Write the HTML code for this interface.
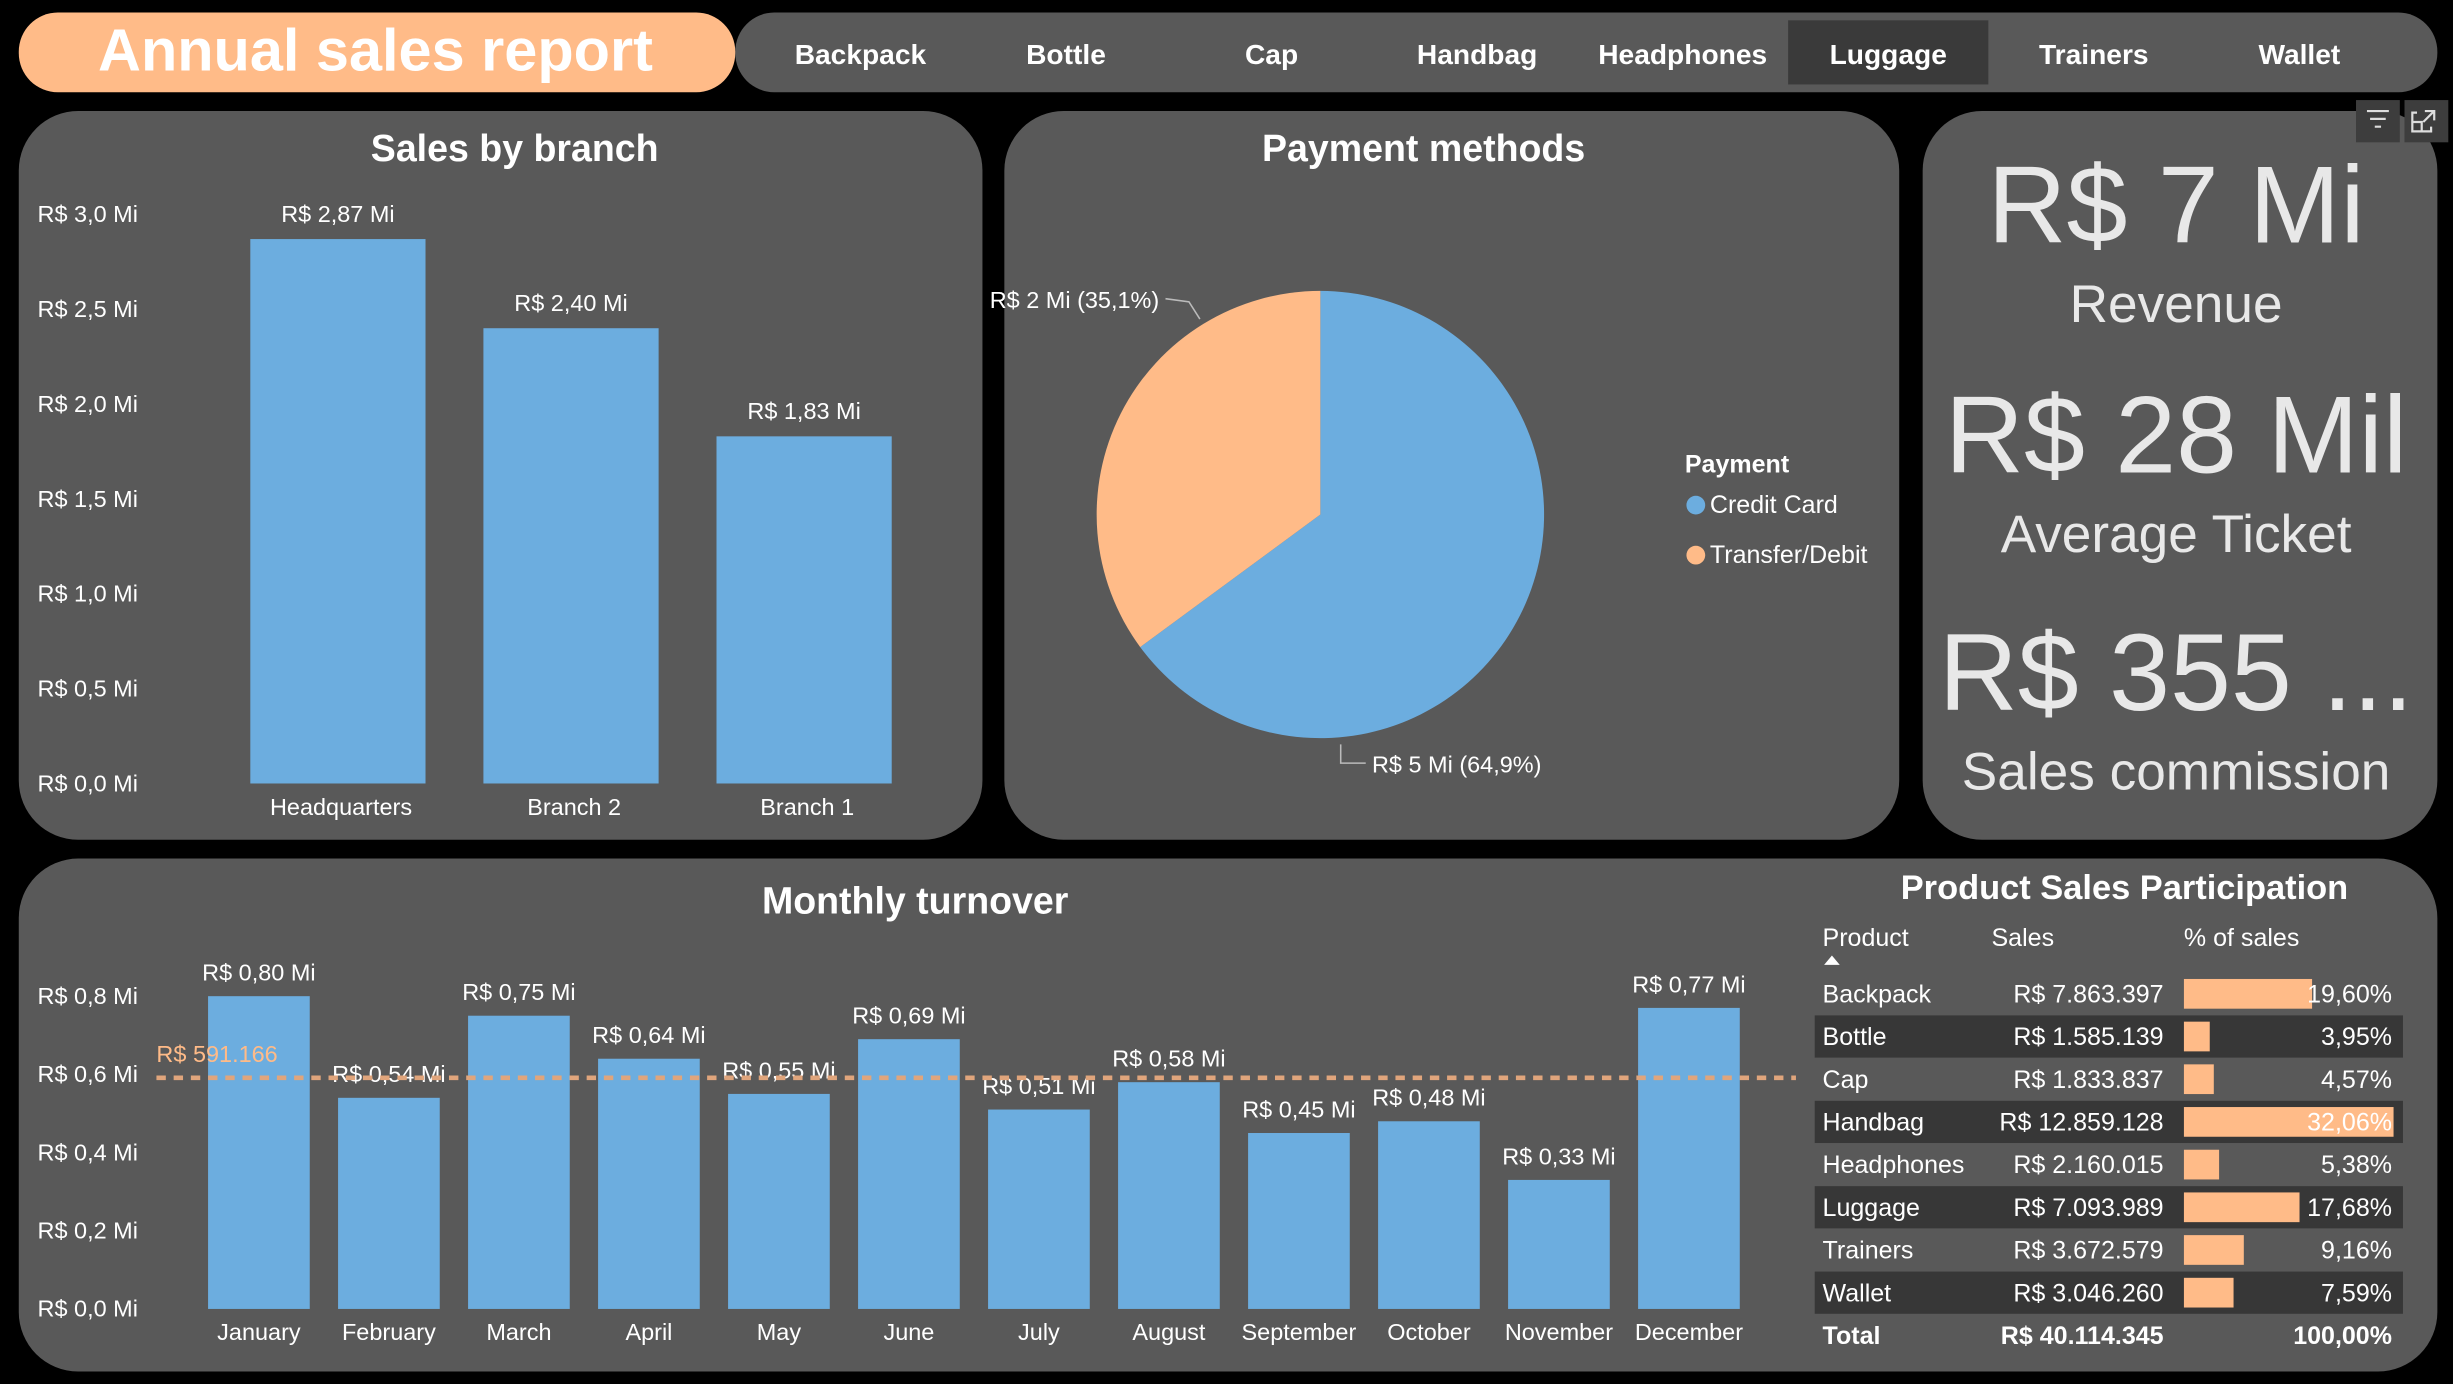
<!DOCTYPE html>
<html><head><meta charset="utf-8">
<style>
html,body{margin:0;padding:0;background:#000;overflow:hidden}
svg{display:block}
text{font-family:"Liberation Sans",sans-serif}
</style></head>
<body>
<svg id="s" width="2453" height="1384" viewBox="0 0 1568 885" preserveAspectRatio="none" xmlns="http://www.w3.org/2000/svg">
<rect x="0" y="0" width="1568" height="885" fill="#000"/>
<rect x="470" y="8" width="1088" height="51" rx="25" fill="#595959"/>
<rect x="12" y="8" width="458" height="51" rx="25" fill="#ffbb88"/>
<text x="240" y="45" text-anchor="middle" font-size="38" font-weight="bold" fill="#fff">Annual sales report</text>
<rect x="1143" y="13" width="128" height="41" fill="#3a3a3a"/>
<g id="nav"></g>
<rect x="12" y="71" width="616" height="466" rx="38" fill="#595959"/>
<rect x="642" y="71" width="572" height="466" rx="38" fill="#595959"/>
<rect x="1229" y="71" width="329" height="466" rx="38" fill="#595959"/>
<rect x="12" y="549" width="1546" height="328" rx="38" fill="#595959"/>
<rect x="1506" y="64" width="28" height="27" fill="#3d3d3d"/>
<path d="M1513 71h14M1515 76h10M1518 81h4" stroke="#ddd" stroke-width="1.4" fill="none"/>
<rect x="1537" y="64" width="28" height="27" fill="#3d3d3d"/>
<path d="M1545 72h-3v12h12v-3M1542 78h6v6M1550 71h6v6M1556 71l-7 7" stroke="#ddd" stroke-width="1.4" fill="none"/>
<text x="329" y="103" text-anchor="middle" font-size="24" font-weight="bold" fill="#fff">Sales by branch</text>
<text x="910" y="103" text-anchor="middle" font-size="24" font-weight="bold" fill="#fff">Payment methods</text>
<text x="585" y="584" text-anchor="middle" font-size="24" font-weight="bold" fill="#fff">Monthly turnover</text>
<text x="1358" y="575" text-anchor="middle" font-size="22" font-weight="bold" fill="#fff">Product Sales Participation</text>
<g fill="#e8e8e8" text-anchor="middle">
<text x="1391" y="155" font-size="70">R$ 7 Mi</text>
<text x="1391" y="206" font-size="34">Revenue</text>
<text x="1391" y="302" font-size="70">R$ 28 Mil</text>
<text x="1391" y="353" font-size="34">Average Ticket</text>
<text x="1391" y="454" font-size="70">R$ 355 ...</text>
<text x="1391" y="505" font-size="34">Sales commission</text>
</g>
<g id="branch"></g>
<g id="pie"></g>
<g id="monthly"></g>
<g id="table"></g>
</svg>
<script>
const navItems=["Backpack","Bottle","Cap","Handbag","Headphones","Luggage","Trainers","Wallet"];
const branchCats=["Headquarters","Branch 2","Branch 1"];
const branchVals=[2.87,2.40,1.83];
const branchLabels=["R$ 2,87 Mi","R$ 2,40 Mi","R$ 1,83 Mi"];
const branchTicks=[0,0.5,1,1.5,2,2.5,3];
const branchTickLabels=["R$ 0,0 Mi","R$ 0,5 Mi","R$ 1,0 Mi","R$ 1,5 Mi","R$ 2,0 Mi","R$ 2,5 Mi","R$ 3,0 Mi"];
const payCats=["Credit Card","Transfer/Debit"];
const payVals=[64.9,35.1];
const payLabels=["R$ 5 Mi (64,9%)","R$ 2 Mi (35,1%)"];
const months=["January","February","March","April","May","June","July","August","September","October","November","December"];
const monthVals=[0.80,0.54,0.75,0.64,0.55,0.69,0.51,0.58,0.45,0.48,0.33,0.77];
const monthLabels=["R$ 0,80 Mi","R$ 0,54 Mi","R$ 0,75 Mi","R$ 0,64 Mi","R$ 0,55 Mi","R$ 0,69 Mi","R$ 0,51 Mi","R$ 0,58 Mi","R$ 0,45 Mi","R$ 0,48 Mi","R$ 0,33 Mi","R$ 0,77 Mi"];
const monthTicks=[0,0.2,0.4,0.6,0.8];
const monthTickLabels=["R$ 0,0 Mi","R$ 0,2 Mi","R$ 0,4 Mi","R$ 0,6 Mi","R$ 0,8 Mi"];
const avgVal=0.591166;
const avgLabel="R$ 591.166";
const products=["Backpack","Bottle","Cap","Handbag","Headphones","Luggage","Trainers","Wallet"];
const productSales=["R$ 7.863.397","R$ 1.585.139","R$ 1.833.837","R$ 12.859.128","R$ 2.160.015","R$ 7.093.989","R$ 3.672.579","R$ 3.046.260"];
const productPct=[19.60,3.95,4.57,32.06,5.38,17.68,9.16,7.59];
const productPctLabels=["19,60%","3,95%","4,57%","32,06%","5,38%","17,68%","9,16%","7,59%"];

const NS="http://www.w3.org/2000/svg";
function mk(parent,tag,attrs,txt){const e=document.createElementNS(NS,tag);for(const k in attrs)e.setAttribute(k,attrs[k]);if(txt!==undefined)e.textContent=txt;parent.appendChild(e);return e;}
const BLUE="#6caddf",PEACH="#ffbb88";

const nav=document.getElementById('nav');
navItems.forEach((n,i)=>{const t=mk(nav,'text',{x:550+i*131.4,y:41,'text-anchor':'middle','font-size':18,'font-weight':'bold',fill:'#fff'},n);

});

const bg=document.getElementById('branch');
const by=v=>501-v*121.3;
branchTicks.forEach((v,i)=>{const t=mk(bg,'text',{x:24,y:by(v)+5,'font-size':15,fill:'#fff'},branchTickLabels[i]);

});
branchVals.forEach((v,i)=>{const cx=216+i*149;
const r=mk(bg,'rect',{x:cx-56,y:by(v),width:112,height:by(0)-by(v),fill:BLUE});


const l=mk(bg,'text',{x:cx,y:by(v)-11,'text-anchor':'middle','font-size':15,fill:'#fff'},branchLabels[i]);


const c=mk(bg,'text',{x:cx+2,y:521,'text-anchor':'middle','font-size':15,fill:'#fff'},branchCats[i]);

});

const pg=document.getElementById('pie');
const cx=844,cy=329,R=143;const tot=payVals.reduce((a,b)=>a+b,0);let a0=-Math.PI/2;
const cols=[BLUE,PEACH];
payVals.forEach((v,i)=>{const a1=a0+v/tot*2*Math.PI;const large=(a1-a0)>Math.PI?1:0;
const p=mk(pg,'path',{d:`M${cx},${cy}L${cx+R*Math.cos(a0)},${cy+R*Math.sin(a0)}A${R},${R} 0 ${large} 1 ${cx+R*Math.cos(a1)},${cy+R*Math.sin(a1)}Z`,fill:cols[i]});


a0=a1;});
// labels
mk(pg,'path',{d:'M857,476L857,488L873,488',stroke:'#bbb',fill:'none','stroke-width':1});
const pl0=mk(pg,'text',{x:877,y:494,'font-size':15,fill:'#fff'},payLabels[0]);


mk(pg,'path',{d:'M745,191L760,193L767,204',stroke:'#bbb',fill:'none','stroke-width':1});
const pl1=mk(pg,'text',{x:741,y:197,'font-size':15,fill:'#fff','text-anchor':'end'},payLabels[1]);


const lt=mk(pg,'text',{x:1077,y:302,'font-size':16,'font-weight':'bold',fill:'#fff'},'Payment');


payCats.forEach((c,i)=>{const y=323+i*32;
mk(pg,'circle',{cx:1084,cy:y,r:6,fill:cols[i]});
const t=mk(pg,'text',{x:1093,y:y+5,'font-size':16,fill:'#fff'},c);

});

const mg=document.getElementById('monthly');
const my=v=>837-v*250;
monthTicks.forEach((v,i)=>{const t=mk(mg,'text',{x:24,y:my(v)+5,'font-size':15,fill:'#fff'},monthTickLabels[i]);

});
monthVals.forEach((v,i)=>{const c=165.5+i*83.1;
const r=mk(mg,'rect',{x:c-32.5,y:my(v),width:65,height:my(0)-my(v),fill:BLUE});


const l=mk(mg,'text',{x:c,y:my(v)-10,'text-anchor':'middle','font-size':15,fill:'#fff'},monthLabels[i]);


const m=mk(mg,'text',{x:c,y:857,'text-anchor':'middle','font-size':15,fill:'#fff'},months[i]);

});
const al=mk(mg,'line',{x1:100,x2:1148,y1:my(avgVal),y2:my(avgVal),stroke:'#e0a57c','stroke-width':3,'stroke-dasharray':'6,5'});


const at=mk(mg,'text',{x:100,y:my(avgVal)-10,'font-size':15,fill:PEACH},avgLabel);



const tg=document.getElementById('table');
[['Product',1165],['Sales',1273],['% of sales',1396]].forEach(h=>{const t=mk(tg,'text',{x:h[1],y:605,'font-size':16,fill:'#fff'},h[0]);

});
mk(tg,'path',{d:'M1166,617L1171,611L1176,617Z',fill:'#fff'});
const rowY=i=>622+i*27.3;
const maxPct=Math.max(...productPct);
products.forEach((p,i)=>{const y=rowY(i);
if(i%2===1){mk(tg,'rect',{x:1160,y:y,width:376,height:27,fill:'#373737'});}
const bw=(productPct[i]/maxPct)*134;
const bar=mk(tg,'rect',{x:1396,y:y+4,width:bw,height:19,fill:PEACH});


const a=mk(tg,'text',{x:1165,y:y+19,'font-size':16,fill:'#fff'},p);


const b=mk(tg,'text',{x:1383,y:y+19,'font-size':16,fill:'#fff','text-anchor':'end'},productSales[i]);


const c=mk(tg,'text',{x:1529,y:y+19,'font-size':16,fill:'#fff','text-anchor':'end'},productPctLabels[i]);

});
const ty=rowY(8)+19;
[['Total',1165,'start'],['R$ 40.114.345',1383,'end'],['100,00%',1529,'end']].forEach(r=>{const t=mk(tg,'text',{x:r[1],y:ty,'font-size':16,'font-weight':'bold',fill:'#fff','text-anchor':r[2]},r[0]);

});
</script>
</body></html>
